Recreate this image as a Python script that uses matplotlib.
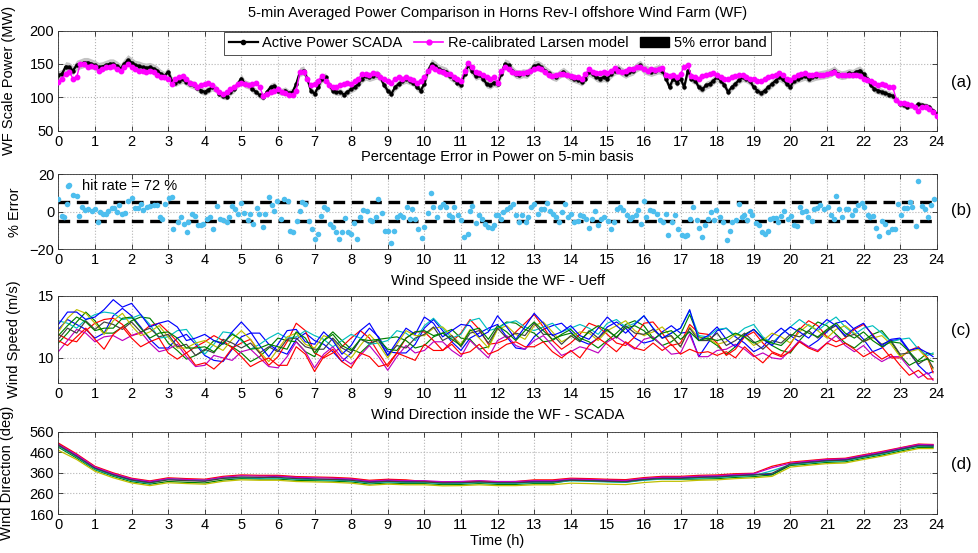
import numpy as np
import matplotlib
matplotlib.use('Agg')
import matplotlib.pyplot as plt
from matplotlib.patches import Patch
from matplotlib.lines import Line2D
from matplotlib.transforms import offset_copy

plt.rcParams['font.family'] = ['Liberation Sans', 'DejaVu Sans']
plt.rcParams['font.size'] = 10.5

# ---------------- data ----------------
# (a) 5-min averaged power, sampled every 0.1 h
scada = [133,135,146,145,140,148,150,152,152,150,
         148,145,146,148,150,150,147,143,150,156,
         152,148,147,145,144,145,143,140,135,132,
         138,125,122,125,127,123,120,118,114,110,
         108,111,115,113,105,102,101,108,112,120,
         128,120,118,112,108,103,100,108,115,117,
         110,108,110,106,108,120,138,140,128,110,
         105,115,128,130,118,110,108,108,104,108,
         112,115,120,128,132,130,132,134,130,118,
         110,105,115,120,125,127,125,122,115,110,
         120,140,150,147,142,140,138,132,128,122,
         118,135,148,140,132,134,128,120,118,122,
         120,135,150,148,140,135,134,136,135,140,
         147,148,145,140,136,132,130,135,138,134,
         130,128,126,123,128,138,135,130,128,130,
         128,135,140,142,138,135,138,140,145,148,
         142,140,138,140,142,140,128,115,128,122,
         128,115,140,128,125,115,112,118,120,125,
         130,125,118,108,115,120,126,130,128,124,
         115,110,106,110,115,120,125,130,127,120,
         115,125,128,130,132,128,130,132,133,134,
         135,137,140,135,133,134,136,135,138,140,
         135,128,118,112,110,108,106,104,102,96,
         90,88,86,88,85,90,88,87,85,80,
         75]
model = [123,128,135,138,128,130,150,150,145,147,
         145,140,143,145,146,147,143,140,145,150,
         146,142,140,140,138,140,138,134,130,130,
         128,120,128,130,132,128,122,120,115,118,
         120,122,118,112,108,105,108,112,115,120,
         122,120,118,120,122,115,102,105,108,110,
         112,108,106,104,103,110,138,138,128,118,
         120,125,132,125,118,115,116,118,120,122,
         120,125,128,135,135,133,136,135,130,128,
         125,122,128,130,128,130,128,126,122,125,
         130,140,145,142,140,138,135,135,130,128,
         125,140,152,145,138,136,133,130,128,130,
         122,140,146,143,138,136,137,136,138,140,
         143,144,142,138,134,132,133,135,135,133,
         132,131,130,128,135,142,138,136,137,138,
         136,140,144,140,138,140,142,143,146,146,
         142,140,142,141,142,144,134,132,133,130,
         135,146,148,132,130,128,132,133,135,137,
         134,130,128,127,130,132,133,133,130,128,
         127,125,124,127,130,132,134,136,133,128,
         126,130,133,135,136,133,134,135,134,134,
         135,136,138,133,134,133,134,133,134,132,
         128,126,124,122,118,120,118,116,115,96,
         92,92,90,88,86,80,86,85,82,78,
         72]
hours_a = np.linspace(0, 24, len(scada))

# (b) percentage error on 5-min basis
err_t = [0.00,0.09,0.16,0.23,0.27,0.41,0.50,0.56,0.64,0.73,0.82,0.91,1.00,1.07,1.14,1.23,1.29,1.37,1.46,1.53,
         1.59,1.66,1.73,1.82,1.91,2.00,2.09,2.19,2.26,2.32,2.41,2.50,2.60,2.69,2.78,2.82,2.91,3.01,3.10,3.14,
         3.28,3.35,3.42,3.51,3.55,3.64,3.73,3.81,3.90,3.96,4.05,4.14,4.23,4.33,4.42,4.51,4.60,4.66,4.75,4.83,
         4.92,4.99,5.08,5.17,5.24,5.33,5.42,5.48,5.60,5.66,5.76,5.83,5.90,5.97,6.08,6.17,6.27,6.33,6.42,6.51,
         6.60,6.65,6.74,6.85,6.92,7.01,7.10,7.19,7.27,7.33,7.42,7.51,7.58,7.67,7.74,7.83,7.92,8.00,8.09,8.15,
         8.24,8.33,8.42,8.52,8.58,8.67,8.74,8.83,8.93,9.02,9.09,9.18,9.24,9.34,9.43,9.52,9.61,9.67,9.74,9.84,
         9.93,10.00,10.09,10.18,10.25,10.34,10.43,10.52,10.58,10.67,10.75,10.82,10.91,11.00,11.09,11.18,11.25,11.31,11.40,11.49,
         11.57,11.66,11.75,11.84,11.91,11.97,12.02,12.09,12.16,12.25,12.34,12.43,12.50,12.59,12.68,12.77,12.84,12.91,13.01,13.10,
         13.19,13.28,13.34,13.43,13.52,13.61,13.68,13.75,13.84,13.92,14.01,14.10,14.19,14.25,14.34,14.43,14.50,14.59,14.66,14.75,
         14.83,14.92,15.01,15.10,15.19,15.26,15.35,15.44,15.53,15.62,15.68,15.77,15.85,15.92,16.01,16.07,16.17,16.26,16.35,16.44,
         16.53,16.59,16.67,16.76,16.85,16.92,17.03,17.12,17.19,17.26,17.35,17.44,17.50,17.60,17.67,17.76,17.82,17.92,17.98,18.08,
         18.17,18.26,18.35,18.42,18.51,18.60,18.67,18.74,18.83,18.90,18.96,19.05,19.14,19.24,19.31,19.38,19.45,19.54,19.60,19.67,
         19.75,19.84,19.93,20.02,20.11,20.17,20.26,20.33,20.42,20.49,20.58,20.65,20.74,20.82,20.93,21.02,21.11,21.20,21.24,21.33,
         21.42,21.51,21.58,21.68,21.77,21.86,21.95,22.02,22.11,22.18,22.27,22.33,22.42,22.50,22.59,22.68,22.77,22.86,22.93,23.02,
         23.11,23.20,23.27,23.33,23.43,23.50,23.59,23.68,23.77,23.84,23.93]
err_v = [7,-2,-3,4,14,9,8.5,-2,2.6,1,1.5,0.2,1.4,-5.5,0,-1,-1,0.3,2,2,
         0,3.8,-1,-0.5,6,7.5,2,2,4,0.8,2.6,3,3.5,3.5,-2.7,-3.6,4,7.5,8,-9,
         -5.5,-3,-6.5,-10.8,-5.5,-1,-2,-7,-7,-6.5,-3.6,-2.7,-9,3,-3.6,-4.5,-5.5,-2.7,3,1.6,
         -1,4.6,-0.5,-4.5,-1,-6.5,2,-1,-8,-1,8,3.5,0.2,5.6,-3.6,6.7,6,-10,-10.8,-5,
         0.2,5.2,4.3,-5,-9,-14.3,-11.6,-2,2.6,1.6,-6.5,-8,-10.8,-14.3,-10.8,-3.4,-10.8,-12,-5.8,-14.3,
         -2.7,0.8,0.2,-4.5,-5,-2.7,6.7,-0.5,-10,-10,-16.4,-10.4,-2.7,-1.5,-2.7,2.6,-3.6,1.4,-3.6,-9,
         -14,-8,-0.7,10.2,2.6,-2.7,2.6,4.3,2.6,-1.8,-2.7,2.6,-1.5,-4.5,-13.4,-11.6,0.2,3,-5.8,-1.8,
         -3.6,-6.5,-8,-8.6,-7,-1.5,-1.5,-3.6,0,1.4,2.6,4,-1.8,-5.5,-1.8,-5.5,-2.7,2.6,4,-1,
         1.6,1.6,4.9,0.2,-1,-2.7,-5.5,0,4,-2.7,-1,-5.5,-5,-1.8,-2,-3.6,-8.6,-3.6,0.2,-7,
         -3.6,-2.7,-5,-9.3,-5.5,1.6,2.6,0.8,-1.8,-3.6,-2.7,-1.8,0.8,-6.5,6,-2.7,0.8,0.2,-1,-4.5,
         -5.5,-1,-12.5,-5.5,-1.8,-9,-12.5,-12.9,-12.5,-3.6,2.6,-4.5,-8.6,-13.4,-7,-3.6,0,-4.5,0.8,-2.7,
         -5.5,-15.2,-10.4,-5.5,-4.5,4,-2.7,-1.5,-4.5,0.2,-1.5,-5.8,-7,-10.8,-12,-10.4,-3.6,-3.4,-3.4,-5.5,
         -2,0.2,-3.6,-2,-7,-7.5,2.6,0,0.2,-2.7,-5,1.6,2,3.5,1.6,2.6,-1.5,-3.6,8.4,1.6,
         -2.7,1.6,1.4,-1.8,0.8,3.5,4.9,2.6,-1.5,-2.7,-2,-8.6,-12.9,-5,-6.5,-11,-9.3,-9.3,4.3,-1.8,
         2,2,5.2,2.6,-7.5,16.3,3,1.6,-2.7,3.5,6.7]
err_limits = [5, -5]

# (c) wind speed: farm-average level every 0.25 h, plus each turbine's departure from it
speed_center = [11.8,12.2,12.5,12.7,12.5,12.3,12.8,12.9, 12.7,12.4,12.0,11.8,11.4,11.3,11.0,10.7,
                10.4,10.6,10.9,11.2,11.3,11.0,10.7,10.5, 10.7,11.0,11.7,11.5,10.6,11.0,11.1,10.8,
                10.8,11.2,11.4,11.0,10.5,10.9,11.3,11.4, 12.0,12.0,11.6,11.5,11.4,12.0,11.8,11.5,
                12.2,12.0,11.7,11.9,12.3,12.1,11.8,11.6, 11.5,11.4,11.8,11.9,12.1,12.0,12.1,12.0,
                12.2,11.9,11.8,11.6,11.4,12.3,11.0,11.6, 11.7,11.3,11.3,11.5,11.4,11.1,11.2,11.4,
                11.5,11.8,11.9,12.0,12.0,12.1,11.9,11.8, 11.7,11.4,11.2,11.0,10.6,10.3,10.0,9.8, 9.4]
speed_departures = [
 [0.5,0.9,0.2,-0.4,-0.9,-0.3,0.6,1.1, 0.7,0.1,-0.5,-1.0,-0.6,0.3,0.9,0.4, -0.2,-0.8,-1.2,-0.5,0.4,1.0,1.3,0.6,
  -0.1,-0.7,-0.2,0.5,0.8,0.1,-0.6,-1.1, -0.4,0.3,1.0,0.7,0.0,-0.5,-0.9,-0.3, 0.4,1.1,0.6,-0.2,-0.8,-0.4,0.2,0.9,
  0.5,-0.3,-0.9,-1.2,-0.6,0.2,0.8,1.2, 0.6,0.0,-0.7,-0.3,0.4,0.9,0.3,-0.4, -1.0,-0.5,0.3,1.0,0.6,-0.2,-0.9,-0.4,
  0.5,1.1,0.4,-0.3,-0.9,-0.2,0.6,1.0, 0.3,-0.5,-1.0,-0.6,0.1,0.7,1.1,0.5, -0.2,-0.9,-0.4,0.4,0.9,0.2,-0.6,-1.1, -0.5],
 [-0.6,-0.2,0.4,1.0,0.5,-0.3,-0.8,-0.4, 0.3,0.9,1.2,0.5,-0.2,-0.7,-1.1,-0.5, 0.2,0.8,0.3,-0.3,-0.9,-1.3,-0.6,0.3,
  0.9,0.4,-0.4,-1.0,-0.5,0.4,1.0,0.6, -0.1,-0.8,-0.3,0.5,1.1,0.8,0.1,-0.6, -1.0,-0.3,0.4,0.8,0.2,-0.5,-1.1,-0.6,
  0.2,0.9,1.1,0.4,-0.3,-0.8,-0.4,0.3, 0.8,0.2,-0.5,-1.1,-0.7,0.0,0.6,1.0, 0.4,-0.3,-0.8,-0.3,0.5,1.2,0.7,-0.1,
  -0.7,-1.0,-0.4,0.4,0.9,0.5,-0.2,-0.8, -1.1,-0.4,0.3,0.9,0.6,-0.2,-0.7,-1.0, -0.3,0.5,1.0,0.3,-0.4,-0.9,-0.2,0.6, 0.9],
 [0.1,-0.7,-1.2,-0.5,0.3,0.8,0.4,-0.2, -0.9,-0.4,0.6,1.0,0.7,0.0,-0.6,0.2, 0.9,1.2,0.5,-0.4,-0.1,0.5,-0.3,-1.1,
  -0.6,0.3,1.1,0.7,-0.2,-1.0,-0.7,0.1, 0.8,1.0,0.2,-0.6,-1.2,-0.5,0.3,0.7, 0.1,-0.6,-1.0,-0.2,0.6,1.1,0.5,-0.4,
  -1.0,-0.5,0.4,0.9,1.2,0.4,-0.4,-0.9, -0.3,0.5,1.0,0.6,-0.2,-0.8,-1.1,-0.3, 0.6,1.0,0.2,-0.6,-0.2,0.4,1.0,0.3,
  -0.5,-1.1,-0.6,0.2,0.7,0.1,-0.7,-1.2, -0.4,0.5,1.1,0.6,-0.3,-0.8,-0.3,0.5, 1.0,0.5,-0.3,-1.0,-0.6,0.3,0.9,0.2, -0.6],
 [1.2,0.6,-0.1,0.4,1.0,1.4,0.8,0.2, 0.5,1.1,0.7,-0.2,0.3,0.9,1.3,0.6, -0.1,0.5,1.2,0.8,0.1,-0.3,0.4,1.1,
  1.3,0.6,0.0,0.7,1.2,0.5,-0.2,0.6, 1.1,0.4,-0.3,0.2,0.9,1.3,0.7,0.0, 0.6,1.2,0.8,0.1,0.5,1.0,1.4,0.7,
  0.2,0.8,1.3,0.6,-0.1,0.4,1.0,0.5, 0.9,1.3,0.6,0.0,0.7,1.1,0.4,0.8, 1.2,0.5,-0.2,0.4,1.0,1.5,0.8,0.1,
  0.6,1.1,0.5,0.9,1.3,0.6,0.0,0.5, 1.0,1.3,0.7,0.2,0.8,1.2,0.6,0.1, 0.7,1.2,0.8,0.3,0.9,1.3,0.7,0.4, 1.0],
 [-1.3,-0.8,-0.2,-0.7,-1.2,-0.6,-1.0,-1.5, -0.9,-0.3,-0.8,-1.3,-0.7,-0.2,-0.9,-1.4, -1.0,-0.4,-0.9,-1.4,-0.8,-0.3,-0.7,-1.2,
  -1.5,-0.9,-0.4,-1.0,-1.4,-0.7,-0.2,-0.8, -1.3,-1.0,-0.4,-0.9,-1.5,-0.8,-0.3,-1.0, -1.4,-0.7,-0.3,-0.9,-1.3,-0.6,-1.1,-1.5,
  -0.8,-0.2,-0.7,-1.2,-0.9,-0.3,-0.8,-1.4, -1.0,-0.5,-1.1,-1.5,-0.8,-0.3,-0.9,-1.3, -0.7,-0.2,-0.8,-1.3,-1.0,-0.4,-0.9,-1.5,
  -1.1,-0.6,-0.2,-0.8,-1.3,-0.7,-1.2,-1.5, -0.9,-0.4,-1.0,-1.4,-0.8,-0.3,-0.9,-1.3, -0.7,-1.2,-1.5,-0.9,-0.5,-1.1,-1.6,-1.0, -1.2],
 [0.3,1.0,1.4,0.9,0.3,-0.4,0.2,0.7, -0.1,-0.6,0.1,0.8,0.3,-0.5,-0.2,0.5, 1.0,0.4,-0.3,0.3,0.9,0.5,-0.2,-0.8,
  0.0,0.7,0.3,-0.4,0.2,0.8,0.4,-0.3, -0.8,-0.2,0.5,0.1,-0.5,0.2,0.9,0.4, -0.2,0.4,0.9,0.3,-0.3,0.3,-0.2,-0.7,
  0.1,0.6,0.2,-0.4,0.3,0.8,0.3,-0.3, 0.2,0.7,0.2,-0.5,0.1,0.6,0.9,0.2, -0.4,0.2,0.7,0.1,-0.5,0.2,0.6,0.0,
  -0.6,0.0,0.6,0.2,-0.4,0.3,0.8,0.3, -0.3,0.3,0.8,0.2,-0.4,0.2,0.7,0.2, -0.4,0.2,0.6,0.1,-0.5,0.2,0.7,0.1, -0.3],
 [-0.3,0.2,-0.5,0.3,-0.2,0.6,-0.1,-0.6, 0.2,-0.3,0.4,-0.1,0.5,-0.4,0.1,-0.5, 0.3,-0.2,0.6,0.0,-0.5,0.2,-0.3,0.4,
  -0.2,0.5,-0.1,-0.6,0.1,-0.3,0.5,0.0, -0.4,0.3,-0.2,0.4,-0.3,0.1,-0.5,0.2, -0.1,0.5,-0.2,0.3,-0.5,0.0,0.4,-0.3,
  0.2,-0.4,0.3,-0.1,0.5,-0.2,0.1,-0.5, 0.3,-0.1,0.4,-0.3,0.2,-0.4,0.5,0.0, -0.3,0.4,-0.2,0.2,-0.5,0.1,0.4,-0.2,
  0.3,-0.3,0.1,0.5,-0.1,-0.4,0.2,-0.2, 0.4,-0.1,0.3,-0.4,0.2,0.5,-0.2,0.1, -0.4,0.3,-0.1,0.4,-0.3,0.1,-0.5,0.2, -0.2],
 [0.9,1.5,1.2,0.4,0.8,1.6,1.9,1.2, 1.7,1.1,0.5,1.0,1.6,1.2,0.4,0.9, 1.5,0.8,0.2,0.9,1.6,1.1,0.3,-0.4,
  0.4,1.2,0.6,-0.2,0.5,1.1,0.3,-0.5, 0.2,1.0,1.4,0.6,-0.3,0.4,1.1,0.5, 1.3,0.8,0.1,0.7,1.3,0.6,-0.1,0.6,
  1.2,0.5,-0.2,0.6,1.3,0.7,0.0,0.5, 1.1,0.4,-0.3,0.5,1.2,0.6,-0.1,0.7, 1.2,0.5,-0.2,0.4,1.0,1.6,0.4,0.2,
  0.8,0.2,-0.4,0.3,0.9,0.4,-0.2,0.5, 1.0,0.3,-0.3,0.4,1.1,0.5,-0.1,0.6, 1.1,0.4,-0.2,0.5,1.0,0.3,0.8,0.6, 0.7],
 [-0.4,-1.2,-0.8,-0.3,-1.0,-1.6,-0.9,-0.4, -1.1,-1.5,-0.7,-0.2,-1.0,-1.4,-0.6,-1.3, -0.8,-1.5,-1.1,-0.4,-1.2,-1.7,-1.0,-0.5,
  -1.3,-1.6,-0.8,-1.2,-1.7,-0.9,-0.4,-1.1, -1.6,-0.8,-1.3,-1.7,-1.0,-0.5,-1.2,-1.6, -0.9,-1.4,-1.0,-0.4,-1.1,-1.5,-0.7,-1.2,
  -1.6,-0.9,-0.4,-1.0,-1.4,-0.8,-1.3,-1.6, -0.9,-1.4,-0.8,-0.3,-1.0,-1.5,-0.8,-1.2, -1.6,-0.7,-1.2,-0.5,-1.1,-1.6,-0.6,-1.1,
  -1.5,-0.8,-1.3,-0.6,-1.2,-1.5,-0.8,-1.3, -1.0,-0.5,-1.1,-1.5,-0.8,-1.2,-0.7,-1.1, -1.6,-0.9,-1.3,-0.7,-1.2,-1.7,-1.0,-1.5, -1.1],
 [0.0,0.4,0.8,0.2,-0.3,0.1,-0.4,0.3, 0.6,0.0,-0.4,0.2,0.7,0.3,-0.2,0.1, 0.5,-0.1,0.3,0.7,0.2,-0.3,0.1,0.6,
  0.2,-0.3,0.4,0.1,-0.2,0.4,0.8,0.2, -0.2,0.3,0.0,0.5,0.2,-0.3,0.3,0.7, 0.2,-0.2,0.4,0.0,-0.4,0.2,0.6,0.0,
  0.4,0.1,-0.3,0.3,0.6,0.1,-0.3,0.2, 0.5,0.0,0.3,0.7,0.1,-0.3,0.3,0.6, 0.0,-0.4,0.2,0.6,0.1,-0.2,0.4,0.0,
  -0.3,0.3,0.7,0.2,-0.2,0.4,0.0,-0.4, 0.2,0.6,0.1,-0.3,0.3,0.7,0.1,-0.2, 0.4,0.0,-0.3,0.3,0.6,0.2,-0.3,0.1, 0.3],
]
hours_c = np.append(np.arange(0, 24, 0.25), 23.9)

# (d) wind direction of individual turbines, every 0.5 h
dir_traces = [
 [500,445,385,352,328,315,330,325,322,336,336,334,345,338,329,327,330,317,322,319,319,314,315,319,315,
  315,319,319,327,325,322,320,330,336,336,341,343,349,353,352,401,414,422,425,442,458,477,495,493],
 [485,432,375,343,317,305,318,314,311,325,332,330,330,324,322,320,316,306,311,308,308,303,304,308,304,
  304,308,308,326,322,318,315,327,330,329,330,332,338,342,350,396,403,411,414,431,447,466,484,483],
 [505,452,392,360,334,321,336,332,329,343,350,348,348,342,340,338,334,324,329,326,318,315,317,320,316,
  318,326,326,334,332,329,327,337,343,343,348,350,356,358,392,412,420,428,431,448,464,482,500,498],
 [490,437,378,347,322,309,331,327,324,336,337,335,335,329,327,325,321,311,316,313,313,308,309,313,309,
  309,313,313,321,319,316,314,324,330,330,335,337,343,347,370,400,408,416,419,436,452,471,489,488],
 [498,448,388,356,331,318,332,328,325,339,346,344,344,338,336,334,330,320,325,322,322,317,318,322,318,
  318,322,322,330,328,325,323,333,339,339,344,346,352,356,385,407,417,425,428,445,461,480,498,496],
 [470,425,368,336,311,298,312,308,305,319,326,324,324,318,316,314,310,300,305,302,302,297,298,302,298,
  298,302,302,310,308,305,303,313,319,319,324,326,332,336,343,388,397,405,408,425,441,460,478,478],
 [494,440,382,350,325,312,326,322,319,333,340,338,338,332,330,328,324,314,319,316,316,311,312,316,312,
  312,316,316,324,322,319,317,327,333,333,338,340,346,350,358,403,411,419,422,439,455,474,492,490],
]
hours_d = np.append(np.arange(0, 24, 0.5), 23.9)

hour_ticks = list(range(0, 25))
turbine_colors = [(0, 0, 1), (0, 0.5, 0), (1, 0, 0), (0, 0.75, 0.75), (0.75, 0, 0.75),
                  (0.75, 0.75, 0), (0.25, 0.25, 0.25), (0, 0, 1), (1, 0, 0), (0, 0.5, 0)]

# ---------------- figure ----------------
fig = plt.figure(figsize=(9.79, 5.53), dpi=100)
L, W = 0.0596, 0.8972
ax_a = fig.add_axes([L, 0.764, W, 0.1808])
ax_b = fig.add_axes([L, 0.5492, W, 0.1356])
ax_c = fig.add_axes([L, 0.308, W, 0.1568])
ax_d = fig.add_axes([L, 0.0705, W, 0.1488])

def style(ax):
    ax.set_xlim(0, 24)
    ax.set_xticks(hour_ticks)
    ax.grid(True, color='#b4b4b4', linestyle=':', linewidth=0.8)
    ax.tick_params(direction='in', top=True, right=True, length=3.5, width=0.5,
                   labelsize=10.5, pad=3)
    for s in ax.spines.values():
        s.set_linewidth(0.6)
        s.set_color('#333333')
    ax.set_axisbelow(True)

def title(ax, text, dy):
    tr = offset_copy(ax.transAxes, fig=fig, x=0, y=dy, units='dots')
    ax.text(0.5, 1.0, text, transform=tr, ha='center', va='center', fontsize=10.5)

# (a)
style(ax_a)
sc = np.array(scada, dtype=float)
ax_a.fill_between(hours_a, sc * 0.95, sc * 1.05, color='#c4c4c4', lw=0, zorder=1)
ax_a.plot(hours_a, sc, color='k', lw=1.6, marker='o', ms=2.2, zorder=2)
ax_a.plot(hours_a, model, color='#ff00ff', lw=1.0, marker='o', ms=3.2, zorder=3)
ax_a.set_ylim(50, 200)
ax_a.set_yticks([50, 100, 150, 200])
ax_a.set_ylabel('WF Scale Power (MW)')
ax_a.yaxis.set_label_coords(-0.048, 0.5)
title(ax_a, '5-min Averaged Power Comparison in Horns Rev-I offshore Wind Farm (WF)', 17.5)
handles = [Line2D([], [], color='k', lw=1.6, marker='o', ms=3),
           Line2D([], [], color='#ff00ff', lw=1.2, marker='o', ms=3.5),
           Patch(facecolor='k', edgecolor='k')]
leg = ax_a.legend(handles, ['Active Power SCADA', 'Re-calibrated Larsen model', '5% error band'],
                  loc='upper center', ncol=3, fancybox=False, framealpha=1, edgecolor='#333333',
                  borderaxespad=0.1, handlelength=2.0, columnspacing=0.8, handletextpad=0.3,
                  fontsize=10.5, borderpad=0.3)
leg.get_frame().set_linewidth(0.6)
leg.set_zorder(10)

# (b)
style(ax_b)
for lim in err_limits:
    ax_b.axhline(lim, color='k', lw=2.4, linestyle=(0, (3.5, 2)), zorder=2)
ax_b.plot(err_t, err_v, linestyle='none', marker='o', ms=4, color='#4dbeee',
          markeredgewidth=0, zorder=3, label='hit rate = 72 %')
ax_b.set_ylim(-20, 20)
ax_b.set_yticks([-20, 0, 20])
ax_b.set_ylabel('% Error')
ax_b.yaxis.set_label_coords(-0.041, 0.5)
title(ax_b, 'Percentage Error in Power on 5-min basis', 17)
ax_b.legend(loc='upper left', frameon=False, handlelength=0.8, handletextpad=0.5,
            borderaxespad=0.1, borderpad=0.2, fontsize=10.5, markerscale=1.0)

# (c)
style(ax_c)
center = np.array(speed_center)
for dep, col in zip(speed_departures, turbine_colors):
    ax_c.plot(hours_c, center + np.array(dep), color=col, lw=0.85)
ax_c.set_ylim(8, 15)
ax_c.set_yticks([10, 15])
ax_c.set_ylabel('Wind Speed (m/s)')
ax_c.yaxis.set_label_coords(-0.043, 0.5)
title(ax_c, 'Wind Speed inside the WF - Ueff', 15)

# (d)
style(ax_d)
for tr, col in zip(dir_traces, turbine_colors):
    ax_d.plot(hours_d, tr, color=col, lw=0.9)
ax_d.set_ylim(160, 560)
ax_d.set_yticks([160, 260, 360, 460, 560])
ax_d.set_ylabel('Wind Direction (deg)')
ax_d.yaxis.set_label_coords(-0.05, 0.5)
ax_d.set_xlabel('Time (h)', labelpad=1)
title(ax_d, 'Wind Direction inside the WF - SCADA', 16.5)

for lab, ypx in [('(a)', 83), ('(b)', 210), ('(c)', 330), ('(d)', 465)]:
    fig.text(961 / 979, 1 - ypx / 553, lab, ha='center', va='center', fontsize=12)

fig.savefig('out.png', dpi=100)
